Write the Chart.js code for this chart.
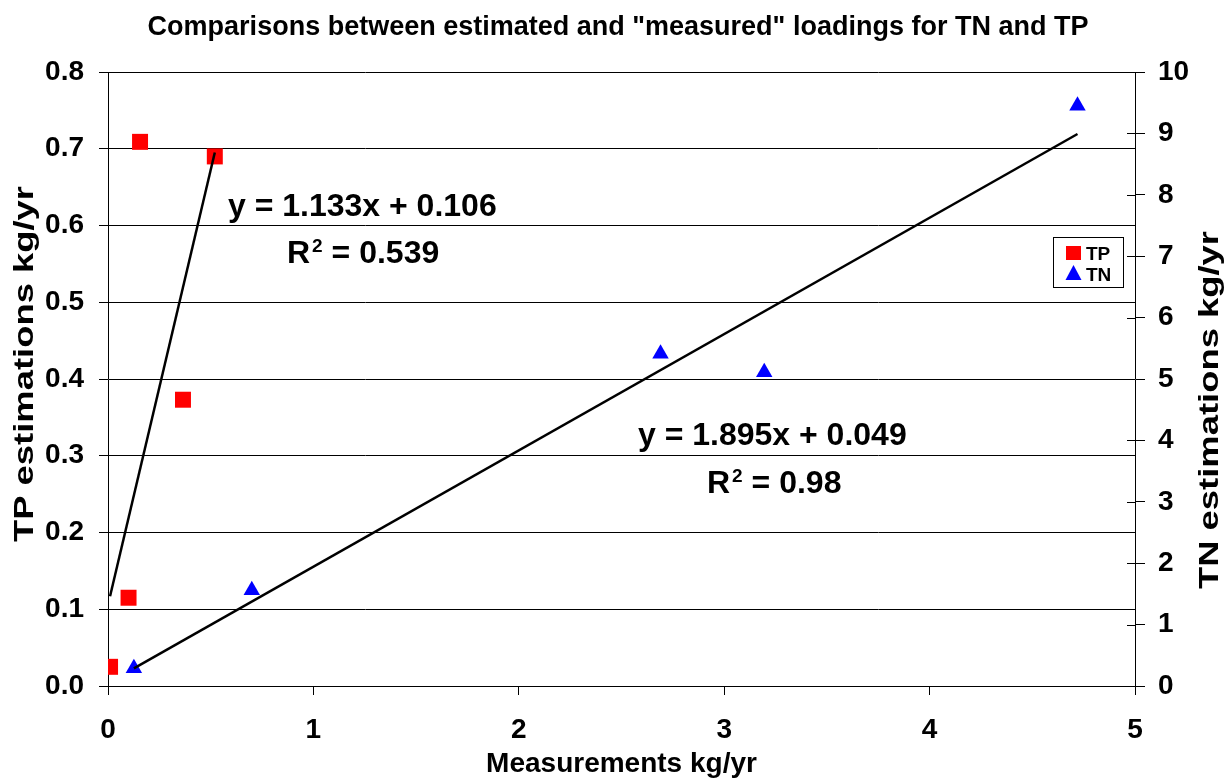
<!DOCTYPE html>
<html>
<head>
<meta charset="utf-8">
<script src="https://cdn.jsdelivr.net/npm/chart.js@4.4.1/dist/chart.umd.min.js"></script>
<style>
html,body{margin:0;padding:0;background:#fff;}
#wrap{width:1232px;height:778px;position:relative;overflow:hidden;}
canvas{display:block;}
</style>
</head>
<body>
<div id="wrap"><canvas id="c" width="1232" height="778"></canvas></div>
<script>
// ---- data ----
const tpX = [0.01, 0.10, 0.156, 0.365, 0.52];
const tpY = [0.025, 0.115, 0.709, 0.373, 0.69];
const tnX = [0.126, 0.70, 2.69, 3.195, 4.72];
const tnY = [0.29, 1.56, 5.41, 5.11, 9.45];
const tpTrendX = [0.01, 0.52];
const tpTrendY = [0.117, 0.695];
const tnTrendX = [0.126, 4.72];
const tnTrendY = [0.288, 8.99];
const seriesNames = ['TP', 'TN'];
const xTicks = [0, 1, 2, 3, 4, 5];
const leftTicks = [0, 0.1, 0.2, 0.3, 0.4, 0.5, 0.6, 0.7, 0.8];
const rightTicks = [0, 1, 2, 3, 4, 5, 6, 7, 8, 9, 10];
const titleText = 'Comparisons between estimated and "measured" loadings for TN and TP';
const xTitle = 'Measurements kg/yr';
const yLeftTitle = 'TP estimations kg/yr';
const yRightTitle = 'TN estimations kg/yr';
const tpEquation = 'y = 1.133x + 0.106';
const tpR2 = '0.539';
const tnEquation = 'y = 1.895x + 0.049';
const tnR2 = '0.98';

const FONT = '"Liberation Sans", Arial, Helvetica, sans-serif';
const toPts = (xs, ys) => xs.map((x, i) => ({x: x, y: ys[i]}));

const decorPlugin = {
  id: 'decor',
  afterDraw(chart) {
    const ctx = chart.ctx;
    const ca = chart.chartArea;
    ctx.save();
    // title
    ctx.fillStyle = '#000';
    ctx.font = 'bold 27px ' + FONT;
    ctx.textAlign = 'center';
    ctx.textBaseline = 'alphabetic';
    ctx.fillText(titleText, chart.width / 2 + 2, 35);

    // vertical axis titles (both read bottom-to-top)
    function vTitle(txt, cx, cy) {
      ctx.save();
      ctx.translate(cx, cy);
      ctx.rotate(-Math.PI / 2);
      ctx.scale(1.3, 1);
      ctx.font = 'bold 28px ' + FONT;
      ctx.textAlign = 'center';
      ctx.textBaseline = 'middle';
      ctx.fillStyle = '#000';
      ctx.fillText(txt, 0, 0);
      ctx.restore();
    }
    vTitle(yLeftTitle, 25, 364);
    vTitle(yRightTitle, 1210, 410);

    // inner halves of right-axis ticks
    const y1 = chart.scales.y1;
    ctx.strokeStyle = '#000';
    ctx.lineWidth = 1;
    y1.ticks.forEach(t => {
      const py = Math.round(y1.getPixelForValue(t.value)) + 0.5;
      ctx.beginPath();
      ctx.moveTo(ca.right - 8, py);
      ctx.lineTo(ca.right, py);
      ctx.stroke();
    });

    // regression annotations
    function eq(p, txt, r2) {
      ctx.textAlign = 'left';
      ctx.textBaseline = 'alphabetic';
      ctx.fillStyle = '#000';
      ctx.font = 'bold 32px ' + FONT;
      ctx.fillText(txt, p.eqX, p.eqY);
      ctx.fillText('R', p.rX, p.rY);
      const rw = ctx.measureText('R').width;
      ctx.font = 'bold 19px ' + FONT;
      ctx.fillText('2', p.rX + rw + 2, p.rY - 11);
      const sw = ctx.measureText('2').width;
      ctx.font = 'bold 32px ' + FONT;
      ctx.fillText(' = ' + r2, p.rX + rw + 2 + sw, p.rY);
    }
    eq({eqX: 228, eqY: 216, rX: 287, rY: 263}, tpEquation, tpR2);
    eq({eqX: 638, eqY: 445, rX: 707, rY: 493}, tnEquation, tnR2);

    // legend box
    const lx = 1053.5, ly = 237.5, lw = 70, lh = 50;
    ctx.fillStyle = '#fff';
    ctx.fillRect(lx, ly, lw, lh);
    ctx.strokeStyle = '#000';
    ctx.strokeRect(lx, ly, lw, lh);
    ctx.fillStyle = chart.data.datasets[2].backgroundColor;
    ctx.fillRect(1066, 246, 15, 14);
    ctx.fillStyle = chart.data.datasets[3].backgroundColor;
    ctx.beginPath();
    ctx.moveTo(1073.5, 265);
    ctx.lineTo(1081.5, 280);
    ctx.lineTo(1065.5, 280);
    ctx.closePath();
    ctx.fill();
    ctx.fillStyle = '#000';
    ctx.font = 'bold 19px ' + FONT;
    ctx.textAlign = 'left';
    ctx.fillText(seriesNames[0], 1086, 260);
    ctx.fillText(seriesNames[1], 1086, 281);
    ctx.restore();
  }
};

const tickFont = {family: FONT, size: 28, weight: 'bold'};
const titleFont = {family: FONT, size: 28, weight: 'bold', lineHeight: 1};

new Chart(document.getElementById('c'), {
  type: 'scatter',
  data: {
    datasets: [
      {label: 'TP trend', data: toPts(tpTrendX, tpTrendY), yAxisID: 'y', showLine: true,
       borderColor: '#000', borderWidth: 2.5, pointRadius: 0, fill: false},
      {label: 'TN trend', data: toPts(tnTrendX, tnTrendY), yAxisID: 'y1', showLine: true,
       borderColor: '#000', borderWidth: 2.5, pointRadius: 0, fill: false},
      {label: seriesNames[0], data: toPts(tpX, tpY), yAxisID: 'y', pointStyle: 'rect',
       pointRadius: 11.3, backgroundColor: '#ff0000', borderColor: '#ff0000', borderWidth: 0},
      {label: seriesNames[1], data: toPts(tnX, tnY), yAxisID: 'y1', pointStyle: 'triangle',
       pointRadius: 9.5, backgroundColor: '#0000ff', borderColor: '#0000ff', borderWidth: 0}
    ]
  },
  options: {
    responsive: false,
    animation: false,
    devicePixelRatio: 1,
    layout: {padding: {top: 72, left: 0, right: 0, bottom: 0}},
    plugins: {legend: {display: false}, tooltip: {enabled: false}, title: {display: false}},
    scales: {
      x: {
        type: 'linear', min: 0, max: 5,
        afterBuildTicks: s => { s.ticks = xTicks.map(v => ({value: v})); },
        ticks: {font: tickFont, color: '#000', padding: 18, callback: v => String(v)},
        grid: {drawOnChartArea: false, drawTicks: true, tickLength: 9, color: '#000'},
        border: {display: true, color: '#000', width: 1},
        title: {display: true, text: xTitle, font: titleFont, color: '#000', padding: {top: 0, bottom: 0}},
        afterFit: s => { s.height = 92; }
      },
      y: {
        type: 'linear', position: 'left', min: 0, max: 0.8,
        afterBuildTicks: s => { s.ticks = leftTicks.map(v => ({value: v})); },
        ticks: {font: tickFont, color: '#000', padding: 15, callback: v => Number(v).toFixed(1)},
        grid: {drawOnChartArea: true, drawTicks: true, tickLength: 9, color: '#000', lineWidth: 1},
        border: {display: true, color: '#000', width: 1},
        title: {display: false, text: yLeftTitle},
        afterFit: s => { s.width = 108; }
      },
      y1: {
        type: 'linear', position: 'right', min: 0, max: 10,
        afterBuildTicks: s => { s.ticks = rightTicks.map(v => ({value: v})); },
        ticks: {font: tickFont, color: '#000', padding: 13, callback: v => String(v)},
        grid: {drawOnChartArea: false, drawTicks: true, tickLength: 10, color: '#000'},
        border: {display: true, color: '#000', width: 1},
        title: {display: false, text: yRightTitle},
        afterFit: s => { s.width = 97; }
      }
    }
  },
  plugins: [decorPlugin]
});
</script>
</body>
</html>
